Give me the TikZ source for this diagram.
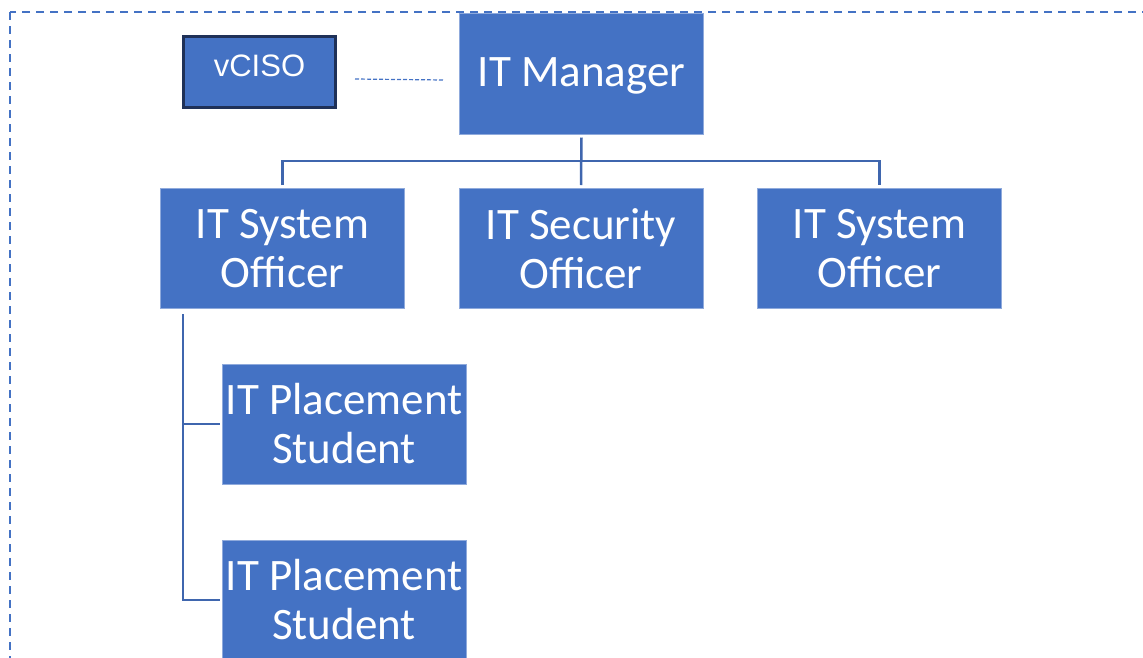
\documentclass[tikz,border=0pt]{standalone}
\usepackage{fontspec}
\setmainfont{Carlito}
\newfontfamily\arialfont{Liberation Sans}
\usetikzlibrary{calc}
\definecolor{boxfill}{HTML}{4472C4}
\definecolor{boxedge}{HTML}{8FAADC}
\definecolor{connblue}{HTML}{3F66AE}
\definecolor{navy}{HTML}{1F3158}
\tikzset{
  orgbox/.style={fill=boxfill, draw=boxedge, line width=1pt, text=white,
    minimum width=244, minimum height=120, inner sep=0pt, align=center,
    font=\fontsize{45}{49}\selectfont},
  advbox/.style={fill=boxfill, draw=navy, line width=3pt, text=white,
    minimum width=152, minimum height=71, inner sep=0pt,
    font=\arialfont\fontsize{31}{34}\selectfont},
  conn/.style={draw=connblue, line width=2.5pt},
  dlink/.style={draw=boxfill, line width=1.2pt, dash pattern=on 4pt off 2pt},
  frame/.style={draw=boxfill, line width=2pt, dash pattern=on 8pt off 6pt}
}
\begin{document}
\begin{tikzpicture}[x=1pt, y=-1pt]
  \useasboundingbox (0,0) rectangle (1143,657);
  \clip (0,0) rectangle (1143,657);

  % outer dashed frame
  \draw[frame] (10,12) rectangle (1180,700);

  % boxes (single-line labels placed by their baseline)
  \node[orgbox, minimum height=121] (mgr) at (581.5,73.5)
    {\raisebox{-13pt}[0pt][0pt]{IT Manager}};
  \node[advbox] (vciso) at (259.5,72)
    {\raisebox{-4.7pt}[0pt][0pt]{vCISO}};
  \node[orgbox] (sys1) at (282.5,248.5) {IT System\\Officer};
  \node[orgbox] (sec) at (581,248.5) {IT Security\\Officer};
  \node[orgbox] (sys2) at (879.5,248.5) {IT System\\Officer};
  \node[orgbox] (ps1) at (344,424) {IT Placement\\Student};
  \node[orgbox] (ps2) at (344,600) {IT Placement\\Student};

  % reporting lines
  \coordinate (bus) at (581,161);
  \draw[conn] ([yshift=-3pt]mgr.south) -- ([yshift=3pt]sec.north);
  \draw[conn] ([yshift=3pt]sys1.north) |- (bus) -| ([yshift=3pt]sys2.north);

  \coordinate (trunk) at ([shift={(23,5)}]sys1.south west);
  \draw[conn] (trunk) |- ([xshift=-2pt]ps2.west);
  \draw[conn] ([xshift=-2pt]ps1.west) -- (trunk |- ps1.west);

  % advisory link
  \draw[dlink] ($(vciso.east)+(18,7)$) -- ($(vciso.east -| mgr.west)+(-15,8)$);
\end{tikzpicture}
\end{document}
